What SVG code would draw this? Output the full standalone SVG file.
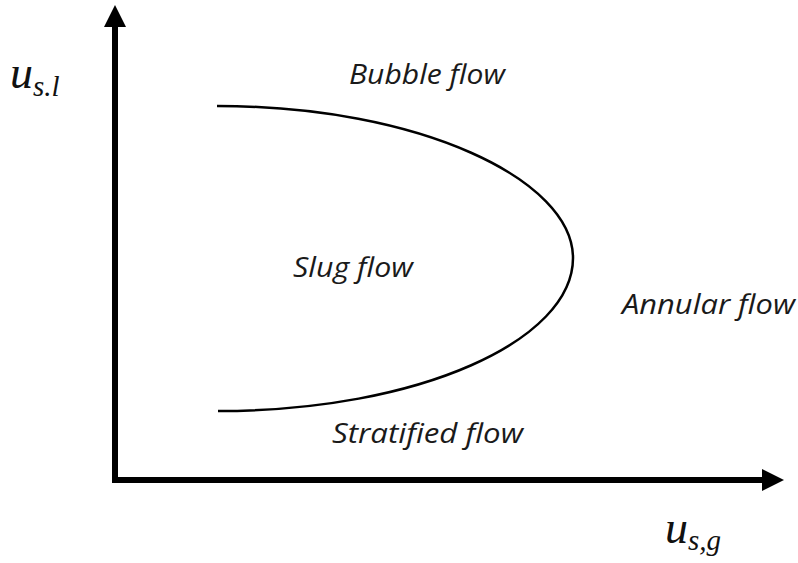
<svg xmlns="http://www.w3.org/2000/svg" width="798" height="563" viewBox="0 0 798 563">
<style>
.lbl{font-family:"Open Sans","Noto Sans",sans-serif;font-style:italic;font-size:28px;fill:#1a1a1a}
.m{font-family:"Liberation Serif","DejaVu Serif",serif;font-style:italic;fill:#111}
.ax{stroke:#000;stroke-width:6;fill:none}
</style>
<rect width="798" height="563" fill="#fff"/>
<g id="axes">
<line class="ax" x1="115" y1="483" x2="115" y2="24"/>
<polygon points="115,5 104,27 126,27" fill="#000"/>
<line class="ax" x1="112" y1="480" x2="764" y2="480"/>
<polygon points="784,480 762,469 762,491" fill="#000"/>
</g>
<g id="boundary">
<path d="M217,106 C420,106 573,180 573,258 C573,340 420,411 218,411" fill="none" stroke="#000" stroke-width="2.5"/>
</g>
<g id="labels">
<text class="lbl" x="349" y="84" textLength="156" lengthAdjust="spacingAndGlyphs">Bubble flow</text>
<text class="lbl" x="293" y="277" textLength="120" lengthAdjust="spacingAndGlyphs">Slug flow</text>
<text class="lbl" x="622" y="314" textLength="173" lengthAdjust="spacingAndGlyphs">Annular flow</text>
<text class="lbl" x="332" y="443" textLength="191" lengthAdjust="spacingAndGlyphs">Stratified flow</text>
<text class="m" x="10" y="88" font-size="46">u<tspan font-size="29" dy="8">s.l</tspan></text>
<text class="m" x="665" y="543" font-size="46">u<tspan font-size="29" dy="7">s,g</tspan></text>
</g>
</svg>
